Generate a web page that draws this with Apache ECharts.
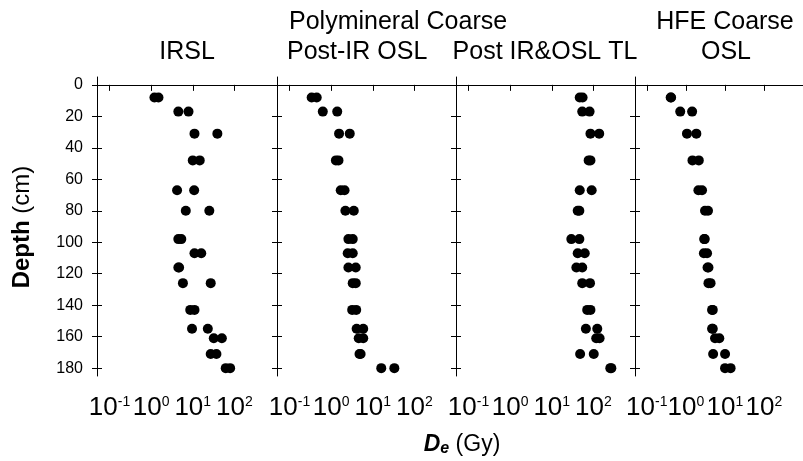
<!DOCTYPE html>
<html>
<head>
<meta charset="utf-8">
<script src="https://cdn.jsdelivr.net/npm/echarts@6/dist/echarts.min.js"></script>
<style>
  html, body { margin: 0; padding: 0; background: #fff; }
  #chart { width: 803px; height: 461px; }
</style>
</head>
<body>
<div id="chart"></div>
<script>
// depth of each sample (cm), shared by all panels
var depths = [8, 17, 31, 48, 67, 80, 98, 107, 116, 126, 143, 155, 161, 171, 180];

// two aliquots per depth, De in Gy
var irslA = [1.2, 4.5, 11, 10, 4.2, 6.8, 4.5, 11, 4.5, 5.8, 8.7, 9.6, 32, 27, 62];
var irslB = [1.5, 7.9, 39, 14.7, 10.8, 25, 5.3, 16, 4.7, 27, 11, 23, 50, 37, 79];

var postIrOslA = [0.34, 0.63, 1.55, 1.3, 1.7, 2.2, 2.6, 2.5, 2.6, 3.3, 3.2, 4.1, 4.6, 4.8, 16];
var postIrOslB = [0.45, 1.4, 2.8, 1.5, 2.1, 3.5, 3.3, 3.3, 3.9, 3.9, 4.0, 5.9, 5.9, 5.1, 33];

var postTlA = [47, 54, 85, 77, 47, 42, 29.5, 42, 39, 54, 71, 66, 117, 48, 255];
var postTlB = [55, 81, 138, 85, 91, 46, 46, 62, 54, 83, 85, 124, 141, 102, 270];

var hfeOslA = [0.41, 0.72, 1.07, 1.48, 2.1, 3.1, 2.95, 2.9, 3.6, 3.8, 4.7, 4.7, 5.6, 5.0, 10.1];
var hfeOslB = [0.42, 1.45, 1.86, 2.15, 2.6, 3.7, 3.05, 3.5, 3.8, 4.3, 4.9, 4.9, 7.2, 10.1, 14];

var xTicks = [0.1, 1, 10, 100];
var yTicks = [0, 20, 40, 60, 80, 100, 120, 140, 160, 180];

var panels = [
    [irslA, irslB],
    [postIrOslA, postIrOslB],
    [postTlA, postTlB],
    [hfeOslA, hfeOslB]
];

var FONT = "'Liberation Sans', Arial, sans-serif";
var panelLeft = [97, 277, 456, 635];

var chart = echarts.init(document.getElementById('chart'));

function pairs(vals) {
    return vals.map(function (v, i) { return [v, depths[i]]; });
}

var grids = [], xAxes = [], yAxes = [], series = [];
panels.forEach(function (p, i) {
    grids.push({ left: panelLeft[i], top: 77, width: 179, height: 299 });
    // bottom log axis with 10^n labels
    xAxes.push({
        gridIndex: i, type: 'log', min: 0.05, max: 1000, position: 'bottom',
        axisLine: { lineStyle: { color: '#000', width: 1 } },
        axisTick: { customValues: xTicks, length: 6, lineStyle: { color: '#000' } },
        axisLabel: {
            customValues: xTicks, margin: 19,
            formatter: function (v) {
                var e = Math.round(Math.log(v) / Math.LN10);
                return '{b|10}{s|' + e + '}';
            },
            rich: {
                b: { fontFamily: FONT, fontSize: 26, color: '#000', lineHeight: 26 },
                s: { fontFamily: FONT, fontSize: 14, color: '#000', verticalAlign: 'top', lineHeight: 14 }
            }
        },
        splitLine: { show: false }
    });
    // top frame line
    xAxes.push({
        gridIndex: i, type: 'log', min: 0.05, max: 1000, position: 'top',
        axisLine: { lineStyle: { color: '#000', width: 1 } },
        axisTick: { show: false }, axisLabel: { show: false }, splitLine: { show: false }
    });
    // left axis, ticks pointing out
    yAxes.push({
        gridIndex: i, type: 'value', inverse: true, min: -5, max: 185, position: 'left',
        axisLine: { show: true, lineStyle: { color: '#000', width: 1 } },
        axisTick: { customValues: yTicks, length: 5, lineStyle: { color: '#000' } },
        axisLabel: {
            show: i === 0, customValues: yTicks, margin: 14,
            fontFamily: FONT, fontSize: 16, color: '#000'
        },
        splitLine: { show: false }
    });
    // same axis, ticks pointing in
    yAxes.push({
        gridIndex: i, type: 'value', inverse: true, min: -5, max: 185, position: 'left',
        axisLine: { show: false },
        axisTick: { customValues: yTicks, inside: true, length: 5, lineStyle: { color: '#000' } },
        axisLabel: { show: false },
        splitLine: { show: false }
    });
    p.forEach(function (vals) {
        series.push({
            type: 'scatter', xAxisIndex: 2 * i, yAxisIndex: 2 * i,
            symbol: 'circle', symbolSize: 10,
            itemStyle: { color: '#000', opacity: 1 },
            data: pairs(vals)
        });
    });
});

function txt(text, x, y, align, size) {
    return {
        type: 'text', x: x, y: y, silent: true,
        style: {
            text: text, fill: '#000', align: align, verticalAlign: 'middle',
            font: size + 'px ' + FONT
        }
    };
}

var option = {
    animation: false,
    backgroundColor: '#fff',
    grid: grids,
    xAxis: xAxes,
    yAxis: yAxes,
    series: series,
    graphic: [
        txt('IRSL', 187, 52.5, 'center', 25),
        txt('Polymineral Coarse', 289, 22.5, 'left', 25),
        txt('Post-IR OSL', 287, 52.5, 'left', 25),
        txt('Post IR&OSL TL', 545, 52.5, 'center', 25),
        txt('HFE Coarse', 725, 22.5, 'center', 25),
        txt('OSL', 726, 52.5, 'center', 25),
        {
            type: 'text', x: 22, y: 227, rotation: Math.PI / 2, silent: true,
            style: {
                text: '{b|Depth} (cm)', fill: '#000', align: 'center', verticalAlign: 'middle',
                font: '24px ' + FONT,
                rich: { b: { fontWeight: 'bold', fontSize: 24, fontFamily: FONT } }
            }
        },
        {
            type: 'text', x: 462, y: 445, silent: true,
            style: {
                text: '{d|D}{e|e}{n| (Gy)}', fill: '#000', align: 'center', verticalAlign: 'middle',
                rich: {
                    d: { fontFamily: FONT, fontSize: 23, fontWeight: 'bold', fontStyle: 'italic', lineHeight: 24 },
                    e: { fontFamily: FONT, fontSize: 16, fontWeight: 'bold', fontStyle: 'italic', verticalAlign: 'bottom', lineHeight: 8 },
                    n: { fontFamily: FONT, fontSize: 23, lineHeight: 24 }
                }
            }
        }
    ]
};

chart.setOption(option);
</script>
</body>
</html>
